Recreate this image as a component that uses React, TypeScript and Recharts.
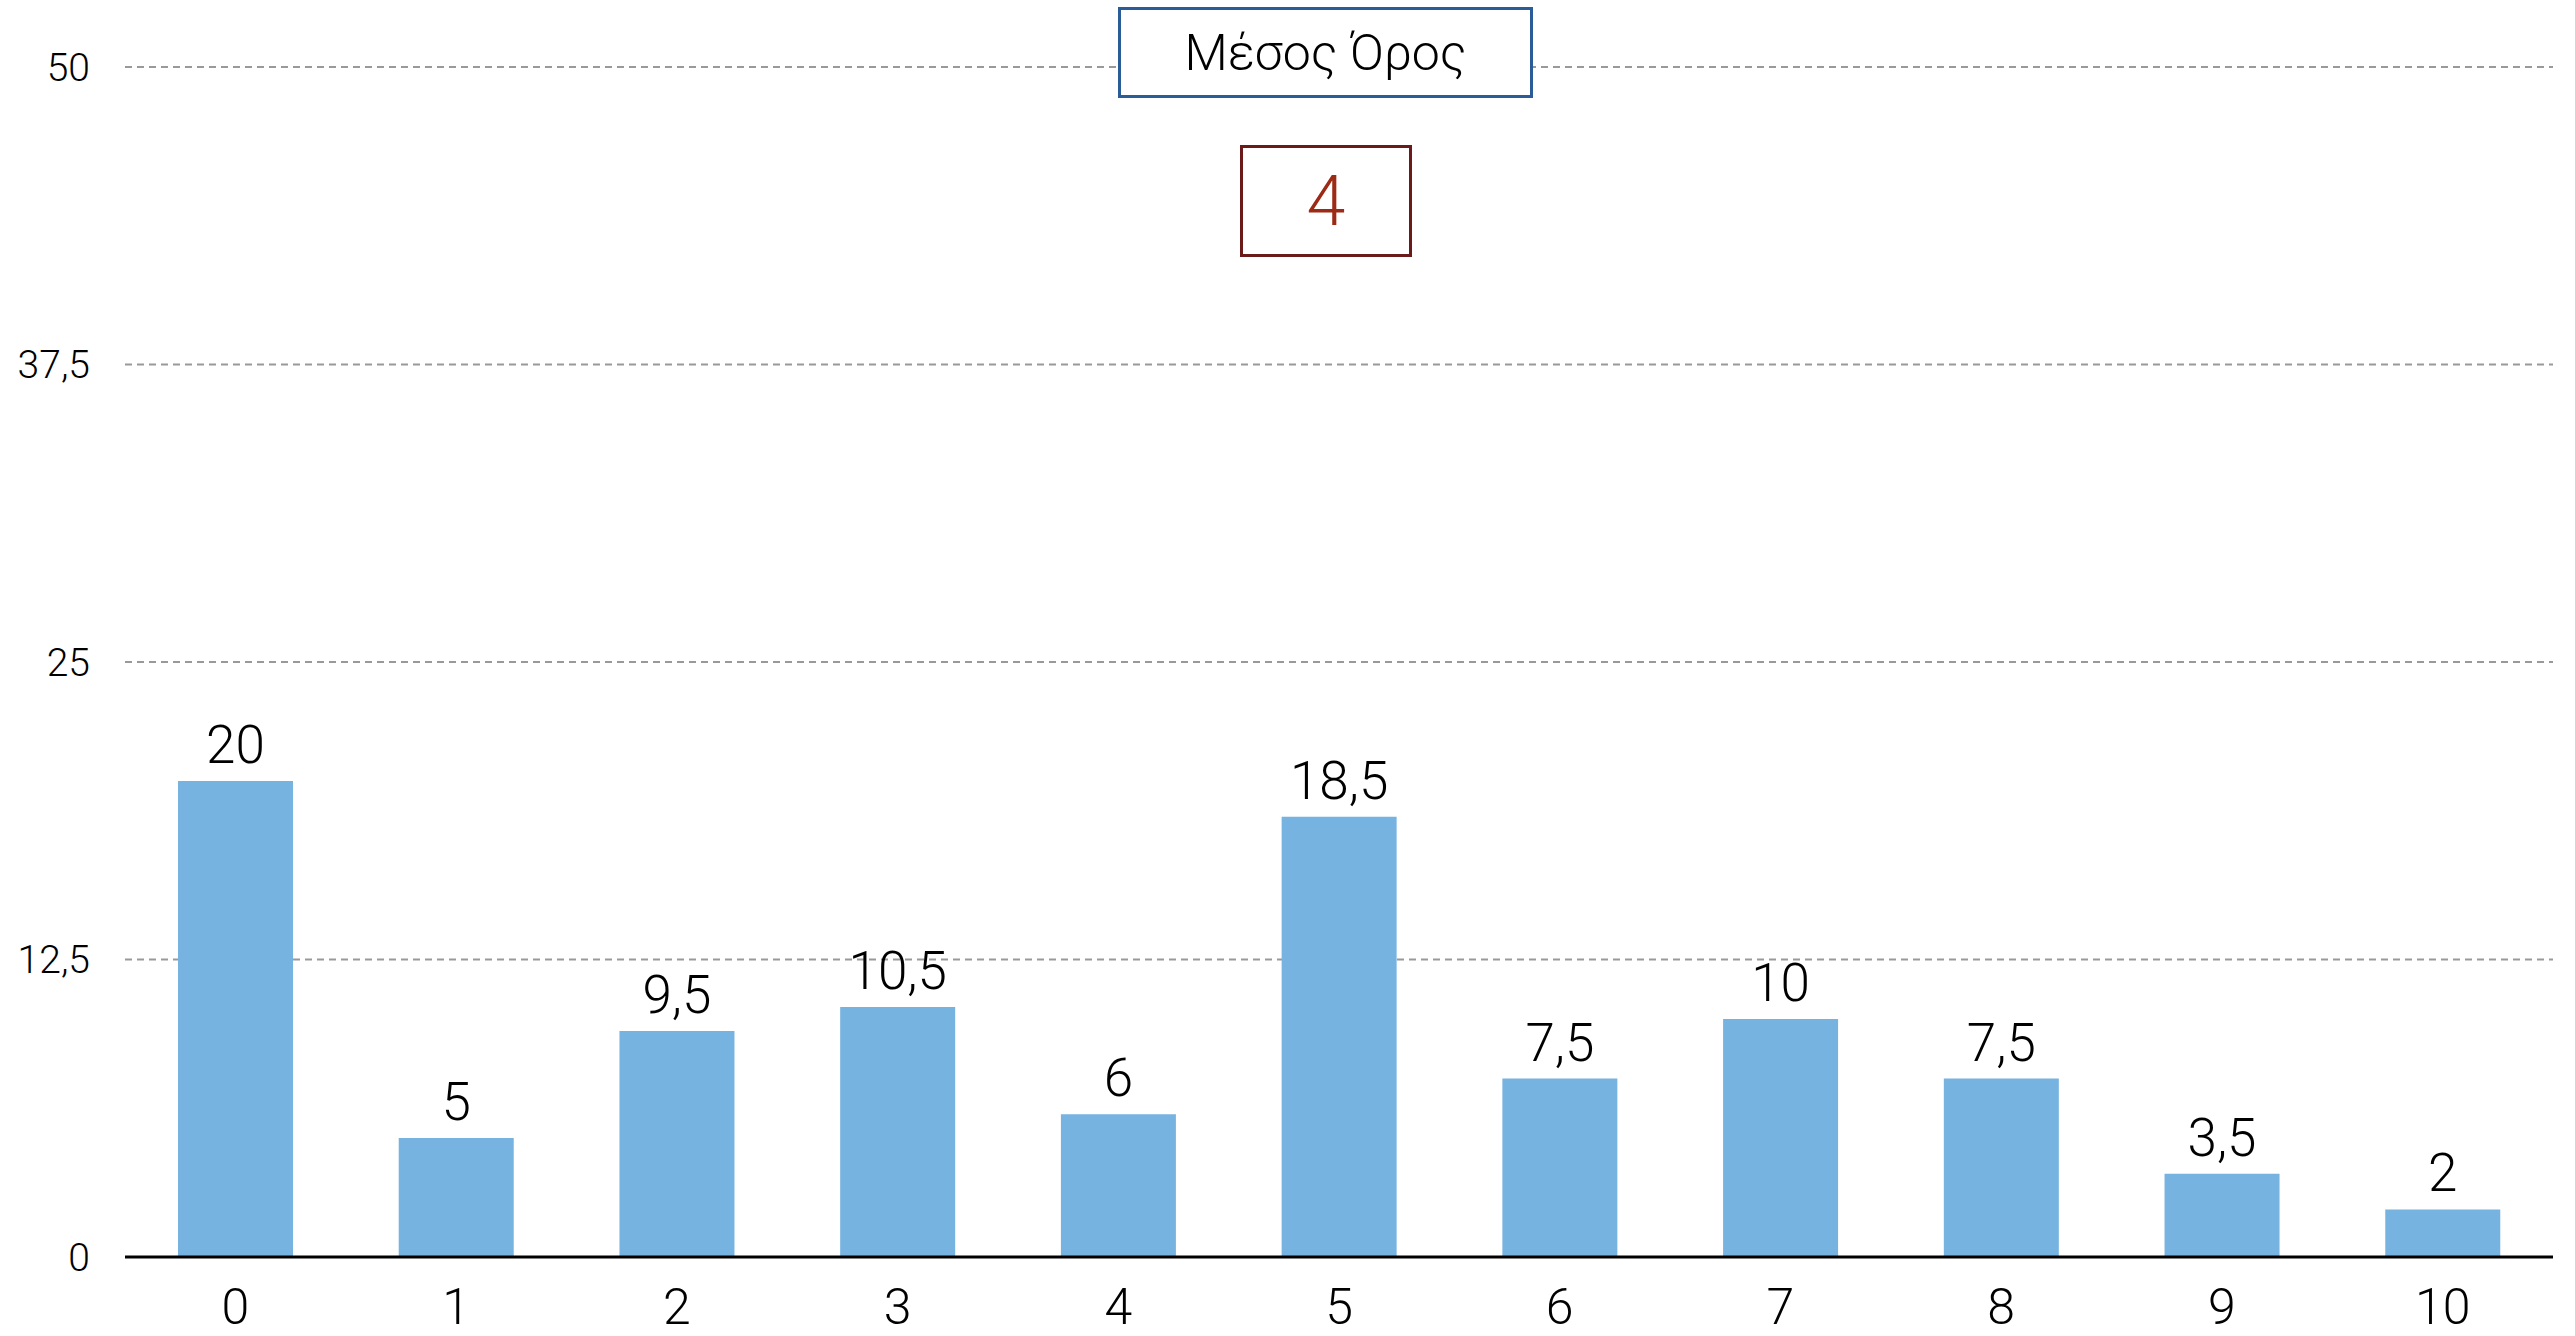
import React from "react";
import { Bar, BarChart, CartesianGrid, LabelList, XAxis, YAxis } from "recharts";

const categories = ["0", "1", "2", "3", "4", "5", "6", "7", "8", "9", "10"];
const counts = [20, 5, 9.5, 10.5, 6, 18.5, 7.5, 10, 7.5, 3.5, 2];
const yTicks = [0, 12.5, 25, 37.5, 50];
const titleText = "Μέσος Όρος";
const meanText = "4";

const data = categories.map((name, i) => ({ name, value: counts[i] }));

const FONT = "Roboto, 'Liberation Sans', sans-serif";
const comma = (v: number | string) => String(v).replace(".", ",");

export default function App() {
  return (
    <div style={{ position: "absolute", left: 0, top: 0, width: 2575, height: 1336, background: "#fff", fontFamily: FONT }}>
      <BarChart width={2575} height={1336} data={data} margin={{ top: 67, right: 22, bottom: 0, left: 0 }}>
        <CartesianGrid vertical={false} stroke="#999" strokeWidth={2} strokeDasharray="7 5" />
        <XAxis
          dataKey="name"
          height={79}
          tickLine={false}
          tickSize={0}
          tickMargin={31}
          axisLine={{ stroke: "#000", strokeWidth: 3 }}
          tick={{ fill: "#000", fontSize: 50, fontFamily: FONT, fontWeight: 300 }}
        />
        <YAxis
          width={125}
          domain={[0, 50]}
          ticks={yTicks}
          interval={0}
          axisLine={false}
          tickLine={false}
          tickSize={0}
          tickMargin={35}
          tickFormatter={comma}
          tick={{ fill: "#000", fontSize: 39, fontFamily: FONT, fontWeight: 300 }}
        />
        <Bar dataKey="value" fill="#76b3e0" barSize={115} isAnimationActive={false}>
          <LabelList
            dataKey="value"
            position="top"
            offset={18}
            formatter={comma}
            style={{ fill: "#000", fontSize: 53, fontFamily: FONT, fontWeight: 300 }}
          />
        </Bar>
      </BarChart>
      <div
        style={{
          position: "absolute", left: 1118, top: 7, width: 415, height: 91, boxSizing: "border-box",
          border: "3px solid #2a5d98", background: "#fff", display: "flex", alignItems: "center",
          justifyContent: "center", fontSize: 50, fontWeight: 300, color: "#000",
        }}
      >
        {titleText}
      </div>
      <div
        style={{
          position: "absolute", left: 1240, top: 145, width: 172, height: 112, boxSizing: "border-box",
          border: "3px solid #6b1a1a", background: "#fff", display: "flex", alignItems: "center",
          justifyContent: "center", fontSize: 70, fontWeight: 300, color: "#9c2a14",
        }}
      >
        {meanText}
      </div>
    </div>
  );
}
